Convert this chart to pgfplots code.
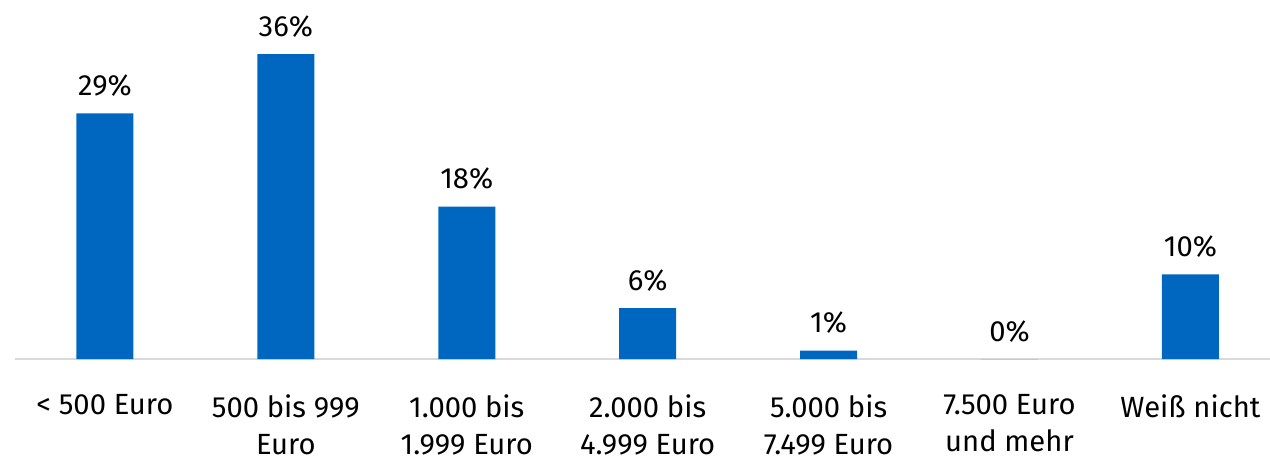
\documentclass[border=0pt]{standalone}
\usepackage{pgfplots}
\pgfplotsset{compat=1.18}
\usepackage{fontspec}
\setmainfont{Fira Sans}
\definecolor{barblue}{HTML}{0067C0}
\definecolor{axisgray}{HTML}{D9D9D9}
\begin{document}
\begin{tikzpicture}
\begin{axis}[
  at={(0,0)}, anchor=south west,
  width=627.75pt, height=179.5pt, scale only axis,
  xmin=-0.5, xmax=6.44, ymin=0, ymax=42.4,
  ybar, bar width=28.5pt,
  axis x line*=bottom, axis y line=none,
  x axis line style={-, draw=axisgray, line width=1pt},
  xtick={0,...,6}, major tick length=0pt,
  /pgf/number format/assume math mode=true,
  xticklabels={{< 500 Euro},{500 bis 999\\Euro},{1.000 bis\\1.999 Euro},{2.000 bis\\4.999 Euro},{5.000 bis\\7.499 Euro},{7.500 Euro\\und mehr},{Weiß nicht}},
  xticklabel style={font=\fontsize{14.6}{18.5}\selectfont, align=center, anchor=north, inner sep=0pt, yshift=-17.5pt, text=black},
  nodes near coords={\pgfmathprintnumber{\pgfplotspointmeta}\%},
  every node near coord/.append style={font=\fontsize{14.6}{16}\selectfont, anchor=base, inner sep=0pt, yshift=9pt, text=black},
  clip=false,
]
\addplot[fill=barblue, draw=none] coordinates {(0,29) (1,36) (2,18) (3,6) (4,1) (5,0) (6,10)};
\end{axis}
\pgfresetboundingbox
\useasboundingbox (-7.25pt,-51pt) rectangle (627.75pt,179.5pt);
\end{tikzpicture}
\end{document}
